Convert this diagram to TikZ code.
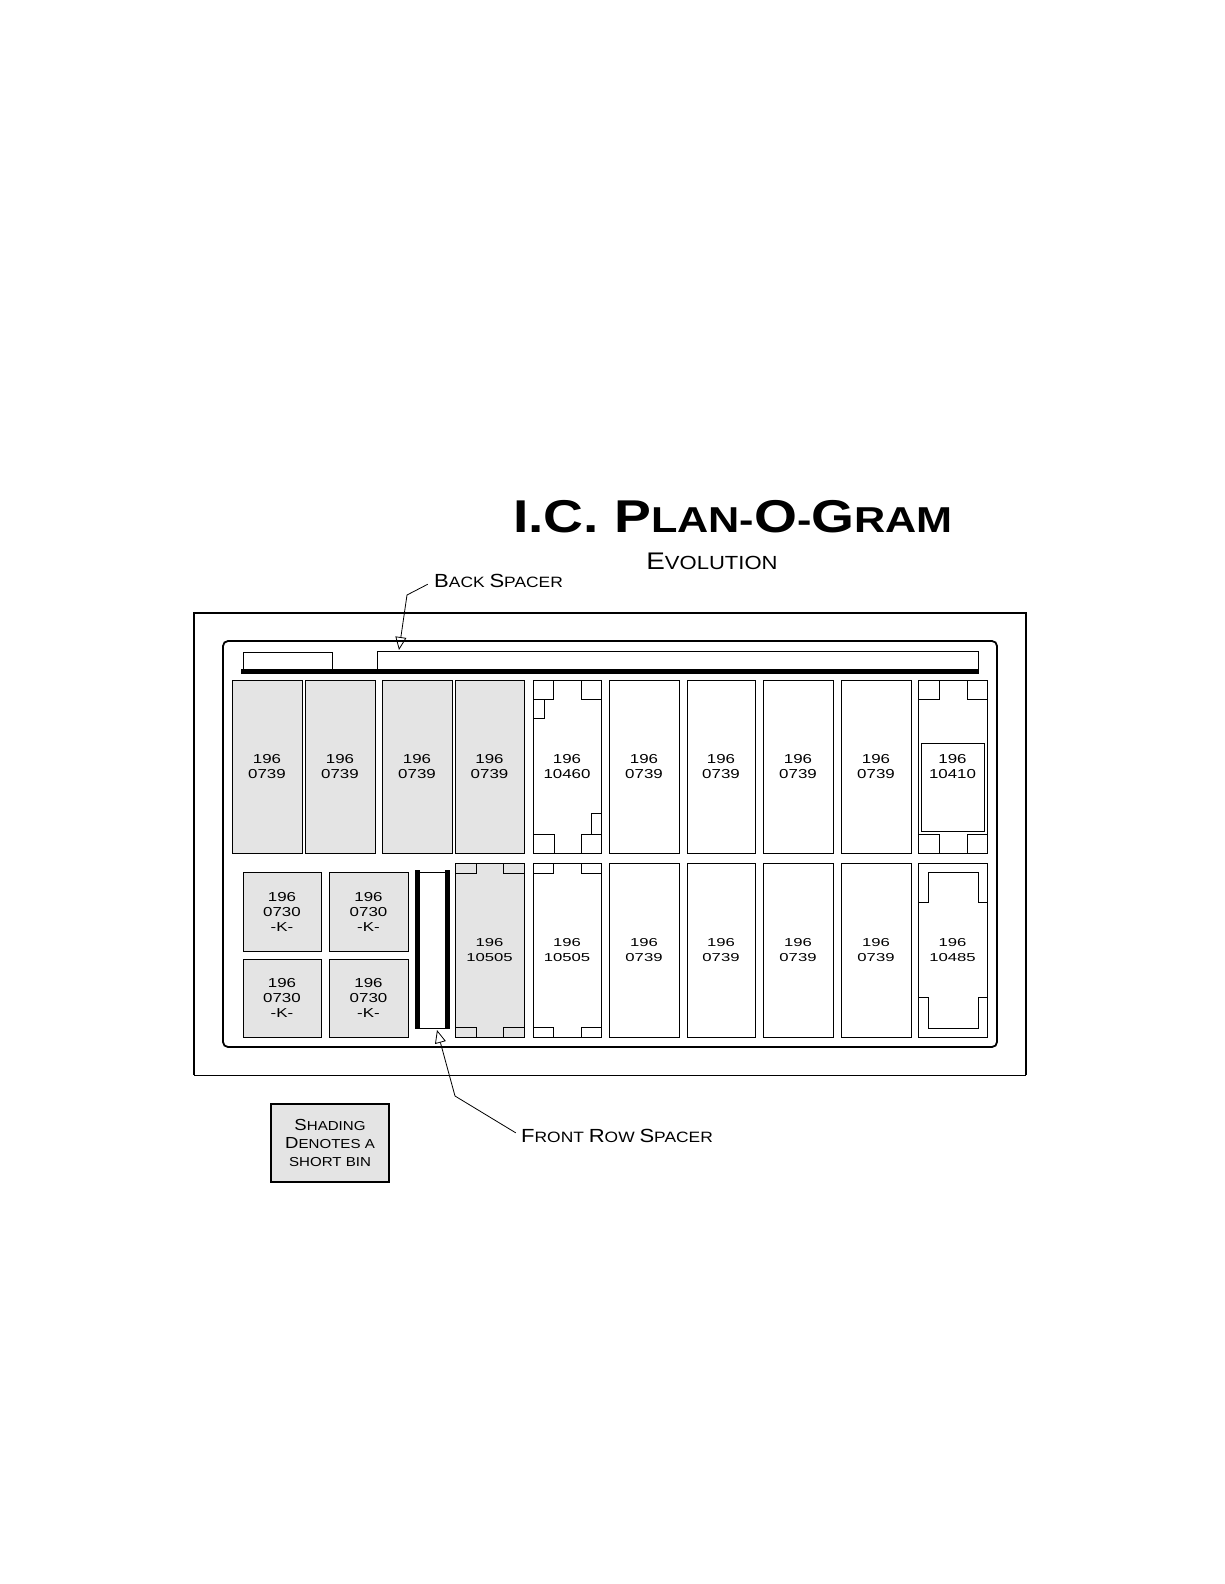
\documentclass[tikz,border=0pt]{standalone}
\usepackage{fontspec}
\usepackage{tikz}
\usetikzlibrary{positioning,arrows.meta}
\newfontfamily\binfont[FakeStretch=1.3]{Liberation Sans}
\newfontfamily\lowfont[FakeStretch=1.45]{Liberation Sans}
\newfontfamily\capfont[FakeStretch=1.16]{Liberation Sans}
\newfontfamily\titlefont[FakeStretch=1.2]{Liberation Sans}
\newcommand{\sz}[2]{{\fontsize{#1}{#1}\selectfont #2}}
\definecolor{shortgray}{HTML}{E4E4E4}
\begin{document}
\begin{tikzpicture}[x=1pt,y=-1pt,>=Stealth]
\tikzstyle{bin}=[draw,line width=1pt,outer sep=0pt,inner sep=0pt,minimum width=70pt,minimum height=173pt,align=center,font=\binfont\fontsize{13}{15}\selectfont]
\tikzstyle{low}=[bin,minimum height=174pt,font=\lowfont\fontsize{11.5}{14.5}\selectfont]
\tikzstyle{kbin}=[bin,fill=shortgray,minimum width=78pt,minimum height=79pt]
\tikzstyle{tab}=[draw,line width=1pt,outer sep=0pt,inner sep=0pt,minimum width=20pt,minimum height=19pt]
\tikzstyle{lowtab}=[tab,minimum height=10pt]
\tikzstyle{bar}=[fill=black,outer sep=0pt,inner sep=0pt]
\tikzstyle{lbl}=[inner sep=0pt,align=center,font=\capfont\fontsize{15}{18}\selectfont]
\tikzstyle{lead}=[-{Triangle[open,length=13pt,width=11pt]},line width=0.8pt]
\useasboundingbox (0,0) rectangle (1224,1584);
% title
\node[inner sep=0pt,font=\titlefont\bfseries\fontsize{36}{36}\selectfont] (title) at (733,517) {\sz{46}{I.C. P}LAN-\sz{46}{O}-\sz{46}{G}RAM};
\node[lbl,font=\capfont\fontsize{19}{19}\selectfont] (evo) at (712,561) {\sz{24}{E}VOLUTION};
% tray
\draw[line width=2pt] (194,1075) -- (194,613) -- (1026,613) -- (1026,1075);
\draw[line width=0.8pt] (194,1075) -- (1026,1075);
\draw[line width=1.8pt,rounded corners=5pt] (223,641) rectangle (997,1047);
% back spacer
\node[draw,line width=1pt,outer sep=0pt,inner sep=0pt,minimum width=89pt,minimum height=18pt,anchor=north west] (sp1) at (243,652) {};
\node[draw,line width=1pt,outer sep=0pt,inner sep=0pt,minimum width=601pt,minimum height=19pt,anchor=north west] (sp2) at (377,651) {};
\node[bar,minimum width=738pt,minimum height=4.5pt,anchor=north west] (backbar) at (241,669) {};
% top row
\node[bin,fill=shortgray,anchor=north west] (b1) at (232,680) {196\\0739};
\node[bin,fill=shortgray,right=3pt of b1] (b2) {196\\0739};
\node[bin,fill=shortgray,right=7pt of b2] (b3) {196\\0739};
\node[bin,fill=shortgray,minimum width=69pt,right=3pt of b3] (b4) {196\\0739};
\node[bin,minimum width=68pt,right=9pt of b4] (b5) {196\\10460};
\node[bin,right=8pt of b5] (b6) {196\\0739};
\node[bin,minimum width=68pt,right=8pt of b6] (b7) {196\\0739};
\node[bin,right=8pt of b7] (b8) {196\\0739};
\node[bin,right=8pt of b8] (b9) {196\\0739};
\node[bin,minimum width=69pt,right=7pt of b9] (b10) {196\\10410};
% bottom row
\node[low,fill=shortgray,minimum width=69pt,below=10pt of b4] (c4) {196\\10505};
\node[low,minimum width=68pt,right=9pt of c4] (c5) {196\\10505};
\node[low,right=8pt of c5] (c6) {196\\0739};
\node[low,minimum width=68pt,right=8pt of c6] (c7) {196\\0739};
\node[low,right=8pt of c7] (c8) {196\\0739};
\node[low,right=8pt of c8] (c9) {196\\0739};
\node[low,minimum width=69pt,right=7pt of c9] (c10) {196\\10485};
% short bins
\node[kbin,anchor=north west] (k1) at (243,872) {196\\0730\\-K-};
\node[kbin,minimum width=79pt,right=8pt of k1] (k2) {196\\0730\\-K-};
\node[kbin,minimum height=78pt,below=8pt of k1] (k3) {196\\0730\\-K-};
\node[kbin,minimum width=79pt,minimum height=78pt,right=8pt of k3] (k4) {196\\0730\\-K-};
% front spacer
\node[draw,line width=0.8pt,outer sep=0pt,inner sep=0pt,minimum width=30pt,minimum height=156pt,anchor=north west] (fr) at (417,872) {};
\node[bar,minimum width=5pt,minimum height=159pt,anchor=north] (frl) at (417,870) {};
\node[bar,minimum width=5pt,minimum height=159pt,anchor=north] (frr) at (447,870) {};
% tabs
\node[tab,anchor=north west] (t5a) at (b5.north west) {};
\node[tab,minimum width=11pt,anchor=north west] (t5b) at (t5a.south west) {};
\node[tab,anchor=north east] (t5c) at (b5.north east) {};
\node[tab,minimum width=21pt,anchor=south west] (t5d) at (b5.south west) {};
\node[tab,anchor=south east] (t5e) at (b5.south east) {};
\node[tab,minimum width=10pt,minimum height=21pt,anchor=south east] (t5f) at (t5e.north east) {};
\node[tab,minimum width=21pt,anchor=north west] (t10a) at (b10.north west) {};
\node[tab,anchor=north east] (t10b) at (b10.north east) {};
\node[tab,minimum width=21pt,anchor=south west] (t10c) at (b10.south west) {};
\node[tab,anchor=south east] (t10d) at (b10.south east) {};
\node[draw,line width=1pt,outer sep=0pt,minimum width=63pt,minimum height=88pt,anchor=north west] (in10) at (921,743) {};
\node[lowtab,minimum width=21pt,anchor=north west] (t4a) at (c4.north west) {};
\node[lowtab,minimum width=21pt,anchor=north east] (t4b) at (c4.north east) {};
\node[lowtab,minimum width=21pt,anchor=south west] (t4c) at (c4.south west) {};
\node[lowtab,minimum width=21pt,anchor=south east] (t4d) at (c4.south east) {};
\node[lowtab,anchor=north west] (c5a) at (c5.north west) {};
\node[lowtab,anchor=north east] (c5b) at (c5.north east) {};
\node[lowtab,anchor=south west] (c5c) at (c5.south west) {};
\node[lowtab,anchor=south east] (c5d) at (c5.south east) {};
\draw[line width=1pt] (918,902) -- (928,902) -- (928,872) -- (978,872) -- (978,902) -- (987,902);
\draw[line width=1pt] (918,997) -- (928,997) -- (928,1028) -- (978,1028) -- (978,997) -- (987,997);
% labels and leaders
\node[lbl,anchor=west] (lblback) at (434,581) {\sz{19}{B}ACK \sz{19}{S}PACER};
\node[lbl,anchor=west] (lblfront) at (521,1136) {\sz{19}{F}RONT \sz{19}{R}OW \sz{19}{S}PACER};
\coordinate (kback) at (407,595);
\coordinate (tipback) at (399,650);
\coordinate (kfront) at (455,1096);
\coordinate (tipfront) at (437,1030);
\draw[lead,shorten <=7pt] (lblback.west) -- (kback) -- (tipback);
\draw[lead,shorten <=6pt] (lblfront.west) -- (kfront) -- (tipfront);
% legend
\node[lbl,draw,fill=shortgray,line width=2pt,outer sep=0pt,minimum width=118pt,minimum height=78pt,font=\capfont\fontsize{13}{18}\selectfont,anchor=north west] (legend) at (271,1104) {\sz{16}{S}HADING\\\sz{16}{D}ENOTES A\\SHORT BIN};
\end{tikzpicture}
\end{document}
